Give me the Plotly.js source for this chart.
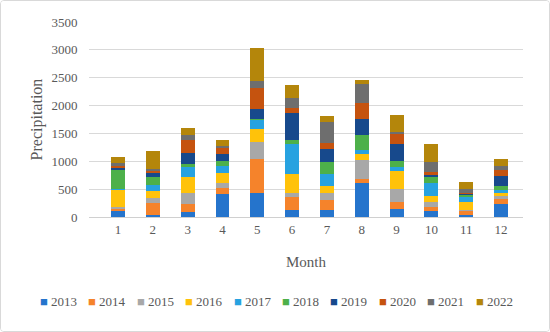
<!DOCTYPE html>
<html>
<head>
<meta charset="utf-8">
<script src="https://cdn.plot.ly/plotly-3.0.1.min.js"></script>
<style>
html,body{margin:0;padding:0;background:#fff;}
#chart{width:548px;height:330px;border:1px solid #d9d9d9;border-radius:4px;overflow:hidden;}
</style>
</head>
<body>
<div id="chart"></div>
<script>
const months = [1,2,3,4,5,6,7,8,9,10,11,12];
const years = ['2013','2014','2015','2016','2017','2018','2019','2020','2021','2022'];
const colors = ['#2574CC','#F5832B','#A8A8A8','#FFC20A','#27A2E0','#4DB04A','#17498C','#C5530F','#6E6E6E','#B4860B'];

const p2013 = [110, 31, 92, 421, 427, 123, 128, 604, 141, 104, 42, 232];
const p2014 = [31, 220, 134, 97, 620, 243, 178, 73, 123, 79, 60, 92];
const p2015 = [31, 86, 196, 92, 292, 60, 123, 342, 232, 92, 31, 60];
const p2016 = [305, 122, 293, 178, 243, 342, 123, 110, 335, 104, 134, 42];
const p2017 = [31, 110, 183, 128, 158, 549, 214, 68, 60, 232, 86, 60];
const p2018 = [335, 146, 49, 92, 24, 73, 220, 269, 115, 110, 37, 73];
const p2019 = [42, 73, 207, 115, 182, 476, 243, 293, 311, 24, 18, 170];
const p2020 = [37, 37, 220, 110, 365, 86, 92, 287, 165, 60, 31, 122];
const p2021 = [42, 37, 104, 42, 133, 183, 379, 342, 49, 183, 60, 73];
const p2022 = [110, 317, 115, 110, 584, 243, 104, 73, 305, 324, 122, 110];

const series = [p2013,p2014,p2015,p2016,p2017,p2018,p2019,p2020,p2021,p2022];

const traces = series.map((vals, i) => ({
  type: 'bar',
  name: years[i],
  x: months,
  y: vals,
  marker: {color: colors[i], line: {width: 0}},
  hoverinfo: 'x+y+name'
}));

const font = {family: '"Liberation Serif", "DejaVu Serif", serif', color: '#595959'};

const W = 548, H = 330, ML = 88, MR = 26, MT = 21, MB = 114;
const plotW = W - ML - MR, plotH = H - MT - MB;

// custom legend: colored square + year label, placed in pixel positions
const legendAnnotations = years.map((yr, i) => ({
  xref: 'paper', yref: 'paper',
  x: (37 + 48.4 * i - ML) / plotW,
  y: -(300 - (H - MB)) / plotH,
  xanchor: 'left', yanchor: 'middle',
  showarrow: false,
  text: '<span style="color:' + colors[i] + '">■</span> ' + yr,
  font: Object.assign({size: 13}, font)
}));

const layout = {
  width: W, height: H,
  barmode: 'stack',
  bargap: 0.6,
  paper_bgcolor: '#ffffff',
  plot_bgcolor: '#ffffff',
  margin: {l: ML, r: MR, t: MT, b: MB},
  font: Object.assign({size: 13}, font),
  showlegend: false,
  xaxis: {
    type: 'linear',
    range: [0.167, 12.63],
    tickvals: months,
    ticktext: months.map(String),
    showgrid: false,
    zeroline: false,
    showline: true,
    linecolor: '#d0d0d0',
    ticks: '',
    tickfont: Object.assign({size: 13}, font),
    title: {text: 'Month', font: Object.assign({size: 15}, font), standoff: 20}
  },
  yaxis: {
    range: [0, 3500],
    dtick: 500,
    showgrid: true,
    gridcolor: '#d9d9d9',
    zeroline: false,
    showline: false,
    ticks: 'outside',
    ticklen: 8,
    tickcolor: 'rgba(0,0,0,0)',
    tickfont: Object.assign({size: 13}, font),
    title: {text: 'Precipitation', font: Object.assign({size: 16}, font), standoff: 4}
  },
  annotations: legendAnnotations
};

Plotly.newPlot('chart', traces, layout, {displayModeBar: false, staticPlot: true});
</script>
</body>
</html>
